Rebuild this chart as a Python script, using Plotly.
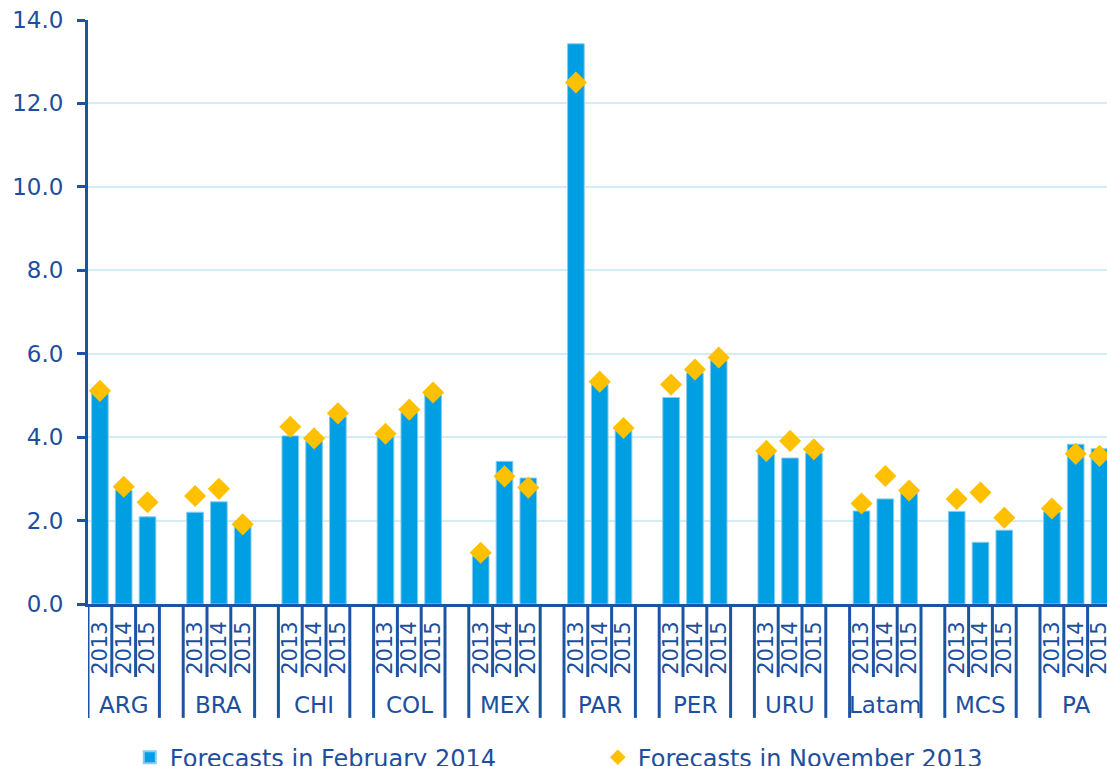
import plotly.graph_objects as go

groups = ["ARG", "BRA", "CHI", "COL", "MEX", "PAR", "PER", "URU", "Latam", "MCS", "PA"]
years = ["2013", "2014", "2015"]
feb2014 = [5.06, 2.73, 2.09,
           2.20, 2.45, 1.87,
           4.03, 3.90, 4.49,
           4.02, 4.59, 5.02,
           1.15, 3.42, 3.02,
           13.43, 5.26, 4.16,
           4.95, 5.54, 5.84,
           3.62, 3.50, 3.62,
           2.23, 2.52, 2.65,
           2.22, 1.48, 1.77,
           2.21, 3.83, 3.72]
nov2013 = [5.11, 2.81, 2.44,
           2.59, 2.76, 1.91,
           4.25, 3.97, 4.57,
           4.08, 4.66, 5.07,
           1.23, 3.06, 2.79,
           12.50, 5.33, 4.22,
           5.26, 5.62, 5.91,
           3.67, 3.91, 3.71,
           2.41, 3.07, 2.72,
           2.52, 2.67, 2.07,
           2.29, 3.60, 3.55]
series_names = ["Forecasts in February 2014", "Forecasts in November 2013"]
y_ticks = [0, 2, 4, 6, 8, 10, 12, 14]

BAR = "#009FE3"
DIAM = "#FFC000"
AXIS = "#1B54A4"
TXT = "#1D4F9E"
GRID = "#D2ECF8"
FONT = "DejaVu Sans"

step = len(years) + 1  # one empty slot after each group
xs, xlab = [], []
for gi, g in enumerate(groups):
    for yi, yr in enumerate(years):
        xs.append(gi * step + yi)
        xlab.append(yr)

fig = go.Figure()
fig.add_trace(go.Bar(
    x=xs, y=feb2014, name=series_names[0], width=0.7,
    marker=dict(color=BAR, line=dict(color="#86CDEF", width=1)),
))
fig.add_trace(go.Scatter(
    x=xs, y=nov2013, name=series_names[1], mode="markers",
    marker=dict(symbol="diamond", size=17, color=DIAM, line=dict(width=0)),
))

# category boundary lines below the axis
shapes = []
for gi, g in enumerate(groups):
    left = gi * step - 0.5
    right = gi * step + len(years) - 0.5
    for xv in (left, right):
        shapes.append(dict(type="line", xref="x", yref="paper", x0=xv, x1=xv,
                           y0=0, y1=-0.195, line=dict(color=AXIS, width=3)))
    for k in range(1, len(years)):
        xv = gi * step + k - 0.5
        shapes.append(dict(type="line", xref="x", yref="paper", x0=xv, x1=xv,
                           y0=0, y1=-0.125, line=dict(color=AXIS, width=3)))

annotations = []
for gi, g in enumerate(groups):
    annotations.append(dict(text=g, x=gi * step + (len(years) - 1) / 2, xref="x",
                            y=-0.173, yref="paper", showarrow=False,
                            xanchor="center", yanchor="middle",
                            font=dict(family=FONT, size=23, color=TXT)))

slot_px = 23.8
fig.update_layout(
    width=1107, height=766,
    margin=dict(l=88, r=0, t=20, b=162, autoexpand=False),
    paper_bgcolor="white", plot_bgcolor="white",
    font=dict(family=FONT, color=TXT),
    shapes=shapes, annotations=annotations,
    showlegend=True,
    legend=dict(orientation="h", x=0.041, y=-0.263, xanchor="left", yanchor="middle",
                font=dict(family=FONT, size=24, color=TXT),
                entrywidth=423, entrywidthmode="pixels", itemsizing="constant",
                bgcolor="rgba(0,0,0,0)"),
    xaxis=dict(
        range=[-0.5, -0.5 + 1019 / slot_px],
        tickmode="array", tickvals=xs, ticktext=xlab, tickangle=-90,
        ticks="", tickfont=dict(family=FONT, size=21, color=TXT),
        ticklabelstandoff=6, ticklabeloverflow="allow",
        showline=True, linecolor=AXIS, linewidth=3,
        showgrid=False, zeroline=False, fixedrange=True,
    ),
    yaxis=dict(
        range=[0, 14], tickmode="array", tickvals=y_ticks, tickformat=".1f",
        ticks="outside", ticklen=8, tickwidth=3, tickcolor=AXIS,
        tickfont=dict(family=FONT, size=23, color=TXT),
        ticklabelstandoff=9,
        showline=True, linecolor=AXIS, linewidth=3,
        showgrid=True, gridcolor=GRID, gridwidth=1.5, zeroline=False,
    ),
)

fig.write_html("out.html")
